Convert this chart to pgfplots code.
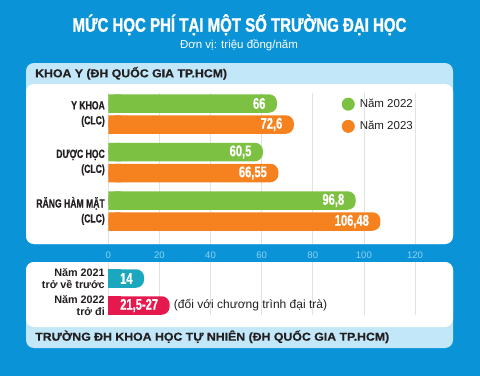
\documentclass[border=0pt]{standalone}
\usepackage{pgfplots}
\pgfplotsset{compat=1.18}
\usepackage{pgfplotstable}
\usepackage{fontspec}
\setmainfont{Liberation Sans}
\newfontfamily\titlefont[FakeStretch=0.77, FakeBold=1.2]{Liberation Sans}
\newfontfamily\condfont[FakeStretch=0.72, FakeBold=0.6]{Liberation Sans}
\newfontfamily\labfont[FakeStretch=0.73, FakeBold=0.8]{Liberation Sans}
\newfontfamily\headfont[FakeStretch=1.07, FakeBold=0.5]{Liberation Sans}

\definecolor{bgblue}{HTML}{0A93D6}
\definecolor{band}{HTML}{C1E7F9}
\definecolor{c22}{HTML}{7DC142}
\definecolor{c23}{HTML}{F5821F}
\definecolor{cteal}{HTML}{1BA7BD}
\definecolor{cred}{HTML}{E6194E}
\definecolor{gridgray}{HTML}{E2E2E2}
\definecolor{ticklab}{HTML}{8ED3F3}
\definecolor{darktext}{HTML}{231F20}

\pgfplotstableread{
y x s lab
272.5 66 5 66
224 60.5 5 60,5
175.5 96.8 5 96,8
}\tabA
\pgfplotstableread{
y x s lab
251.5 72.6 5 72,6
203 66.55 5 66,55
154.5 106.48 5 106,48
}\tabB
\pgfplotstableread{
y x s lab
97.5 14 5 14
}\tabC
\pgfplotstableread{
y x s lab
70.5 24 5 21,5-27
}\tabD

\pgfplotsset{
  barlab/.style={nodes near coords, point meta=explicit symbolic,
    every node near coord/.append style={anchor=east, xshift=-8pt, text=white,
      font=\condfont\bfseries\fontsize{15.5}{16}\selectfont}},
  mybar/.style={xbar, /pgf/bar shift=0pt, bar width=18.5pt, draw=none},
}

\begin{document}
\begin{tikzpicture}
\useasboundingbox (0,0) rectangle (480pt,376pt);
\fill[bgblue] (0,0) rectangle (480pt,376pt);
% title
\node[anchor=base, inner sep=0, text=white, font=\titlefont\bfseries\fontsize{19.5}{20}\selectfont] at (239.5pt,344.3pt) {MỨC HỌC PHÍ TẠI MỘT SỐ TRƯỜNG ĐẠI HỌC};
\node[anchor=base, inner sep=0, text=white, font=\fontsize{11.5}{12}\selectfont] at (239pt,327pt) {Đơn vị: triệu đồng/năm};
% upper panel
\fill[band, rounded corners=8pt] (26pt,132pt) rectangle (453pt,313pt);
\fill[white, rounded corners=8pt] (26pt,132pt) rectangle (453pt,292pt);
\node[anchor=base west, inner sep=0, text=darktext, font=\headfont\bfseries\fontsize{11.5}{12}\selectfont] at (35pt,298.7pt) {KHOA Y (ĐH QUỐC GIA TP.HCM)};
% lower panel
\fill[band, rounded corners=8pt] (26pt,28pt) rectangle (453pt,114pt);
\fill[white, rounded corners=8pt] (26pt,49pt) rectangle (453pt,114pt);
\node[anchor=base west, inner sep=0, text=darktext, font=\headfont\bfseries\fontsize{11.5}{12}\selectfont] at (35pt,35.3pt) {TRƯỜNG ĐH KHOA HỌC TỰ NHIÊN (ĐH QUỐC GIA TP.HCM)};

\begin{axis}[
  at={(108.3pt,132pt)}, anchor=south west,
  x=2.5558pt, y=1pt,
  xmin=0, xmax=120, ymin=132, ymax=283,
  axis line style={draw=none},
  major tick length=0pt,
  xtick={0,20,...,120},
  /pgf/number format/assume math mode=true,
  xmajorgrids, major grid style={gridgray, line width=0.7pt},
  ytick={262,213.5,165},
  yticklabels={{Y KHOA\\(CLC)},{DƯỢC HỌC\\(CLC)},{RĂNG HÀM MẶT\\(CLC)}},
  yticklabel style={align=right, text=darktext, font=\labfont\bfseries\fontsize{11.8}{15}\selectfont},
  xticklabel style={text=ticklab, font=\fontsize{9.5}{11}\selectfont, yshift=-4pt},
  clip=false,
  legend style={draw=none, fill=none, at={(axis cs:90.1,281)}, anchor=north west,
    font=\fontsize{11.5}{13}\selectfont, row sep=8.2pt, text=darktext,
    /tikz/every odd column/.append style={column sep=3pt}},
  legend cell align=left,
]
\addplot[mybar, fill=c22, forget plot] table[x=s, y=y]{\tabA};
\addplot[mybar, fill=c22, rounded corners=8pt, barlab,
  legend image code/.code={\fill[c22] (0pt,0pt) circle (6.5pt);}] table[x=x, y=y, meta=lab]{\tabA};
\addlegendentry{Năm 2022}
\addplot[mybar, fill=c23, forget plot] table[x=s, y=y]{\tabB};
\addplot[mybar, fill=c23, rounded corners=8pt, barlab,
  legend image code/.code={\fill[c23] (0pt,0pt) circle (6.5pt);}] table[x=x, y=y, meta=lab]{\tabB};
\addlegendentry{Năm 2023}
\end{axis}

\begin{axis}[
  at={(108.3pt,61pt)}, anchor=south west,
  x=2.5558pt, y=1pt,
  xmin=0, xmax=120, ymin=61, ymax=114,
  axis line style={draw=none},
  major tick length=0pt,
  xtick={0,20,...,120}, xticklabels={},
  xmajorgrids, major grid style={gridgray, line width=0.7pt},
  ytick={97.5,70.5},
  yticklabels={{Năm 2021\\trở về trước},{Năm 2022\\trở đi}},
  yticklabel style={align=right, text=darktext, font=\bfseries\fontsize{10.8}{12.6}\selectfont},
  clip=false,
]
\addplot[mybar, fill=cteal] table[x=s, y=y]{\tabC};
\addplot[mybar, fill=cteal, rounded corners=8pt, barlab] table[x=x, y=y, meta=lab]{\tabC};
\addplot[mybar, fill=cred] table[x=s, y=y]{\tabD};
\addplot[mybar, fill=cred, rounded corners=8pt, barlab] table[x=x, y=y, meta=lab]{\tabD};
\node[anchor=west, text=darktext, font=\fontsize{12}{13}\selectfont, inner sep=0] at (axis cs:25.6,70.5) {(đối với chương trình đại trà)};
\end{axis}
\end{tikzpicture}
\end{document}
